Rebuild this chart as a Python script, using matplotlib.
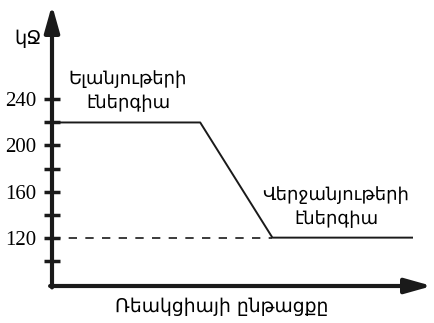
import matplotlib.pyplot as plt

# reaction profile (exothermic)
progress = [0, 0.39, 0.58, 0.95]
energy = [220, 220, 120, 120]
products_level = 120
yticks_major = [120, 160, 200, 240]
yticks_all = [100, 120, 140, 160, 180, 200, 220, 240]

fig = plt.figure(figsize=(4.34, 3.23), dpi=100)
ax = fig.add_axes([52/434, 37/323, 380/434, 281/323])
ax.set_xlim(0, 1)
ax.set_ylim(78, 322)

for s in ["top", "right", "left", "bottom"]:
    ax.spines[s].set_visible(False)

# axes with arrows
ax.annotate("", xy=(0, 1), xytext=(0, -0.005), xycoords="axes fraction",
            arrowprops=dict(arrowstyle="-|>,head_length=1.6,head_width=0.45", lw=3, color="#1a1a1a",
                            shrinkA=0, shrinkB=0))
ax.annotate("", xy=(1, 0), xytext=(-0.005, 0), xycoords="axes fraction",
            arrowprops=dict(arrowstyle="-|>,head_length=1.6,head_width=0.45", lw=3, color="#1a1a1a",
                            shrinkA=0, shrinkB=0))

ax.plot(progress, energy, color="#1a1a1a", lw=1.4, solid_capstyle="butt")
ax.plot([0, progress[2]], [products_level, products_level], color="#1a1a1a", lw=1.2,
        linestyle=(0, (5, 5)))

ax.set_yticks(yticks_all)
ax.set_yticklabels([str(v) if v in yticks_major else "" for v in yticks_all],
                   fontfamily="Liberation Serif", fontsize=15)
ax.tick_params(axis="y", direction="inout", length=12, width=2.5, color="#1a1a1a", pad=5)
ax.set_xticks([])

arm = "DejaVu Sans"
fig.text(28/434, 1 - 38/323, "կՋ", family=arm, fontsize=14, ha="center", va="center")
fig.text(128/434, 1 - 91/323, "Ելանյութերի\nէներգիա", family=arm, fontsize=13,
         ha="center", va="center", linespacing=1.45)
fig.text(336/434, 1 - 207/323, "Վերջանյութերի\nէներգիա", family=arm, fontsize=13,
         ha="center", va="center", linespacing=1.5)
fig.text(222/434, 1 - 306/323, "Ռեակցիայի ընթացքը", family=arm, fontsize=13.5,
         ha="center", va="center")

fig.savefig("out.png", dpi=100)
